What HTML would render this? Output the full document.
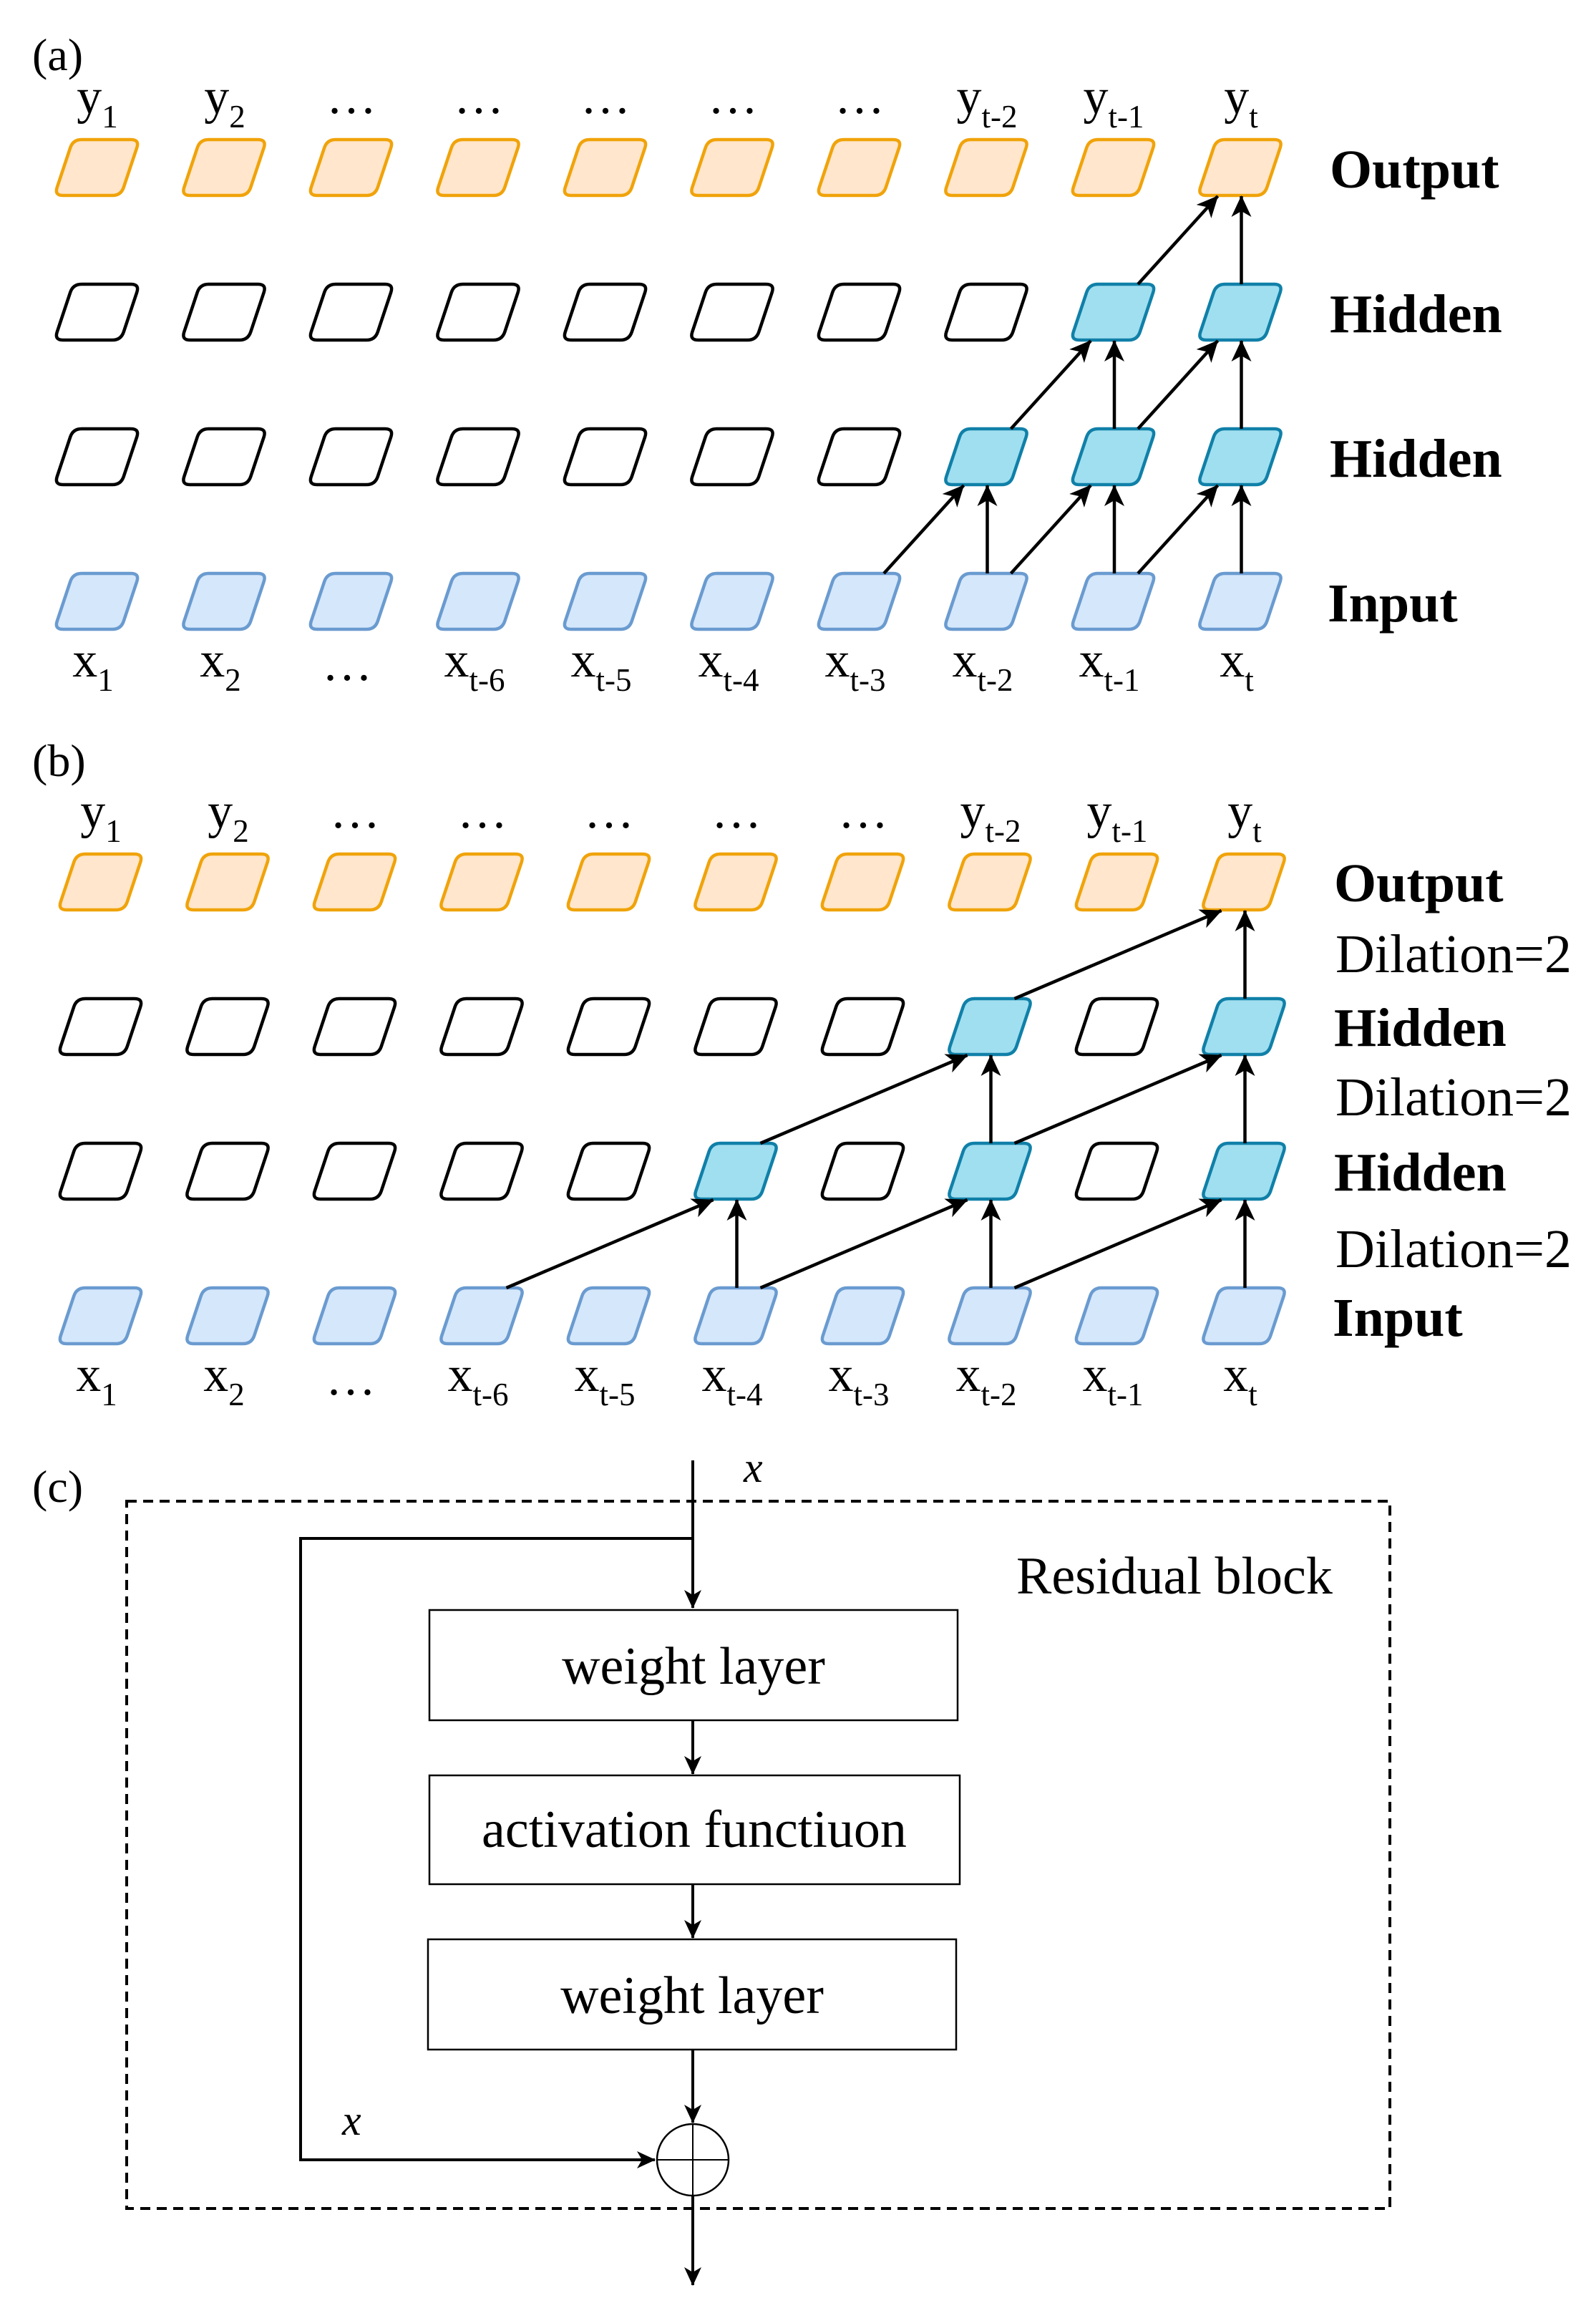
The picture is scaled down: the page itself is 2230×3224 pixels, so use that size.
<!DOCTYPE html>
<html><head><meta charset="utf-8">
<style>
html,body{margin:0;padding:0;background:#fff;}
svg{display:block;}
text{font-family:"Liberation Serif","Times New Roman",serif;fill:#000;}
.lab{font-size:70px;}
.sub{font-size:45px;}
.rb{font-size:76px;font-weight:bold;}
.rr{font-size:76px;}
.bx{font-size:74px;}
</style></head>
<body>
<svg id="s" width="2230" height="3224" viewBox="0 0 2230 3224" xmlns="http://www.w3.org/2000/svg">
<defs>
<marker id="ah" markerUnits="userSpaceOnUse" markerWidth="30" markerHeight="28" refX="29" refY="14" orient="auto">
<path d="M0,0 L30,14 L0,28 L8,14 Z" fill="#000"/>
</marker>
<marker id="ah2" markerUnits="userSpaceOnUse" markerWidth="26" markerHeight="24" refX="25" refY="12" orient="auto">
<path d="M0,0 L26,12 L0,24 L7,12 Z" fill="#000"/>
</marker>
</defs>
<g id="shapes"></g>

<!-- panel labels -->
<text x="45" y="98" style="font-size:64px">(a)</text>
<text x="45" y="1084" style="font-size:64px">(b)</text>
<text x="45" y="2098" style="font-size:64px">(c)</text>

<!-- (a) y labels -->
<g class="lab" text-anchor="middle">
<text x="136" y="158">y<tspan class="sub" dy="20">1</tspan></text>
<text x="314" y="158">y<tspan class="sub" dy="20">2</tspan></text>
<text x="491" y="158">…</text>
<text x="669" y="158">…</text>
<text x="846" y="158">…</text>
<text x="1024" y="158">…</text>
<text x="1201" y="158">…</text>
<text x="1379" y="158">y<tspan class="sub" dy="20">t-2</tspan></text>
<text x="1556" y="158">y<tspan class="sub" dy="20">t-1</tspan></text>
<text x="1734" y="158">y<tspan class="sub" dy="20">t</tspan></text>
</g>
<g class="lab" text-anchor="middle">
<text x="130" y="945">x<tspan class="sub" dy="20">1</tspan></text>
<text x="308" y="945">x<tspan class="sub" dy="20">2</tspan></text>
<text x="485" y="950">…</text>
<text x="663" y="945">x<tspan class="sub" dy="20">t-6</tspan></text>
<text x="840" y="945">x<tspan class="sub" dy="20">t-5</tspan></text>
<text x="1018" y="945">x<tspan class="sub" dy="20">t-4</tspan></text>
<text x="1195" y="945">x<tspan class="sub" dy="20">t-3</tspan></text>
<text x="1373" y="945">x<tspan class="sub" dy="20">t-2</tspan></text>
<text x="1550" y="945">x<tspan class="sub" dy="20">t-1</tspan></text>
<text x="1728" y="945">x<tspan class="sub" dy="20">t</tspan></text>
</g>
<text class="rb" x="1858" y="262">Output</text>
<text class="rb" x="1858" y="464">Hidden</text>
<text class="rb" x="1858" y="666">Hidden</text>
<text class="rb" x="1855" y="868">Input</text>

<!-- (b) labels -->
<g class="lab" text-anchor="middle">
<text x="141" y="1156">y<tspan class="sub" dy="20">1</tspan></text>
<text x="319" y="1156">y<tspan class="sub" dy="20">2</tspan></text>
<text x="496" y="1156">…</text>
<text x="674" y="1156">…</text>
<text x="851" y="1156">…</text>
<text x="1029" y="1156">…</text>
<text x="1206" y="1156">…</text>
<text x="1384" y="1156">y<tspan class="sub" dy="20">t-2</tspan></text>
<text x="1561" y="1156">y<tspan class="sub" dy="20">t-1</tspan></text>
<text x="1739" y="1156">y<tspan class="sub" dy="20">t</tspan></text>
</g>
<g class="lab" text-anchor="middle">
<text x="135" y="1943">x<tspan class="sub" dy="20">1</tspan></text>
<text x="313" y="1943">x<tspan class="sub" dy="20">2</tspan></text>
<text x="490" y="1948">…</text>
<text x="668" y="1943">x<tspan class="sub" dy="20">t-6</tspan></text>
<text x="845" y="1943">x<tspan class="sub" dy="20">t-5</tspan></text>
<text x="1023" y="1943">x<tspan class="sub" dy="20">t-4</tspan></text>
<text x="1200" y="1943">x<tspan class="sub" dy="20">t-3</tspan></text>
<text x="1378" y="1943">x<tspan class="sub" dy="20">t-2</tspan></text>
<text x="1555" y="1943">x<tspan class="sub" dy="20">t-1</tspan></text>
<text x="1733" y="1943">x<tspan class="sub" dy="20">t</tspan></text>
</g>
<text class="rb" x="1864" y="1259">Output</text>
<text class="rr" x="1866" y="1358">Dilation=2</text>
<text class="rb" x="1864" y="1461">Hidden</text>
<text class="rr" x="1866" y="1558">Dilation=2</text>
<text class="rb" x="1864" y="1663">Hidden</text>
<text class="rr" x="1866" y="1770">Dilation=2</text>
<text class="rb" x="1862" y="1866">Input</text>

<!-- (c) residual block -->
<rect x="177" y="2097" width="1765" height="988" fill="none" stroke="#000" stroke-width="4" stroke-dasharray="14,9"/>
<text class="rr" x="1420" y="2226" style="font-size:74px">Residual block</text>
<line x1="968" y1="2040" x2="968" y2="2246" stroke="#000" stroke-width="4" marker-end="url(#ah2)"/>
<text x="1039" y="2070" style="font-size:60px;font-style:italic">x</text>
<polyline points="968,2149 420,2149 420,3017 915,3017" fill="none" stroke="#000" stroke-width="4" marker-end="url(#ah2)"/>
<text x="478" y="2982" style="font-size:60px;font-style:italic">x</text>
<rect x="600" y="2249" width="738" height="154" fill="#fff" stroke="#000" stroke-width="2.5"/>
<text class="bx" x="969" y="2352" text-anchor="middle">weight layer</text>
<line x1="968" y1="2403" x2="968" y2="2478" stroke="#000" stroke-width="4" marker-end="url(#ah2)"/>
<rect x="600" y="2480" width="741" height="152" fill="#fff" stroke="#000" stroke-width="2.5"/>
<text class="bx" x="970" y="2580" text-anchor="middle">activation functiuon</text>
<line x1="968" y1="2632" x2="968" y2="2707" stroke="#000" stroke-width="4" marker-end="url(#ah2)"/>
<rect x="598" y="2709" width="738" height="154" fill="#fff" stroke="#000" stroke-width="2.5"/>
<text class="bx" x="967" y="2812" text-anchor="middle">weight layer</text>
<line x1="968" y1="2863" x2="968" y2="2965" stroke="#000" stroke-width="4" marker-end="url(#ah2)"/>
<circle cx="968" cy="3017" r="50" fill="#fff" stroke="#000" stroke-width="2.5"/>
<line x1="918" y1="3017" x2="1018" y2="3017" stroke="#000" stroke-width="2"/>
<line x1="968" y1="2967" x2="968" y2="3067" stroke="#000" stroke-width="2"/>
<line x1="968" y1="3067" x2="968" y2="3192" stroke="#000" stroke-width="4" marker-end="url(#ah2)"/>
</svg>
<script>
(function(){
var NS="http://www.w3.org/2000/svg";
var g=document.getElementById("shapes");
var W=119,H=78,S=26,R=12,SP=177.5;
var ST={o:["#ffe6cc","#f0a30a"],h:["#ffffff","#000000"],t:["#a0dff0","#1080a8"],i:["#d5e7fb","#6a9bd0"]};
function para(L,T,k){
 var p=[[L+S,T],[L+W,T],[L+W-S,T+H],[L,T+H]];
 var d="";
 for(var i=0;i<4;i++){
  var c=p[i],a=p[(i+3)%4],b=p[(i+1)%4];
  var da=Math.hypot(a[0]-c[0],a[1]-c[1]),db=Math.hypot(b[0]-c[0],b[1]-c[1]);
  var p1=[c[0]+(a[0]-c[0])*R/da,c[1]+(a[1]-c[1])*R/da];
  var p2=[c[0]+(b[0]-c[0])*R/db,c[1]+(b[1]-c[1])*R/db];
  d+=(i==0?"M":"L")+p1[0]+","+p1[1]+" Q"+c[0]+","+c[1]+" "+p2[0]+","+p2[1]+" ";
 }
 d+="Z";
 var e=document.createElementNS(NS,"path");
 e.setAttribute("d",d);e.setAttribute("fill",ST[k][0]);e.setAttribute("stroke",ST[k][1]);
 e.setAttribute("stroke-width","4.5");e.setAttribute("stroke-linejoin","round");
 g.appendChild(e);
}
function line(x1,y1,x2,y2){
 var e=document.createElementNS(NS,"line");
 e.setAttribute("x1",x1);e.setAttribute("y1",y1);e.setAttribute("x2",x2);e.setAttribute("y2",y2);
 e.setAttribute("stroke","#000");e.setAttribute("stroke-width","4.5");
 e.setAttribute("marker-end","url(#ah)");
 g.appendChild(e);
}
function panel(x0,rows,teal,arrows){
 // rows: [out,h1,h2,in] tops
 for(var c=0;c<10;c++){
  var L=x0+c*SP;
  para(L,rows[0],"o");
  para(L,rows[1],teal[1].indexOf(c)>=0?"t":"h");
  para(L,rows[2],teal[2].indexOf(c)>=0?"t":"h");
  para(L,rows[3],"i");
 }
 arrows.forEach(function(a){ // [srcRow,srcCol,tgtRow,tgtCol]
  var sT=rows[a[0]],tB=rows[a[2]]+H;
  var sL=x0+a[1]*SP,tL=x0+a[3]*SP;
  if(a[1]==a[3]) line(sL+61,sT,tL+61,tB+1);
  else line(sL+94,sT,tL+28,tB+1);
 });
}
panel(76,[195,397,599,801],{1:[8,9],2:[7,8,9]},[
 [3,6,2,7],[3,7,2,7],[3,7,2,8],[3,8,2,8],[3,8,2,9],[3,9,2,9],
 [2,7,1,8],[2,8,1,8],[2,8,1,9],[2,9,1,9],
 [1,8,0,9],[1,9,0,9]]);
panel(81,[1193,1395,1597,1799],{1:[7,9],2:[5,7,9]},[
 [3,3,2,5],[3,5,2,5],[3,5,2,7],[3,7,2,7],[3,7,2,9],[3,9,2,9],
 [2,5,1,7],[2,7,1,7],[2,7,1,9],[2,9,1,9],
 [1,7,0,9],[1,9,0,9]]);
})();
</script>
</body></html>
